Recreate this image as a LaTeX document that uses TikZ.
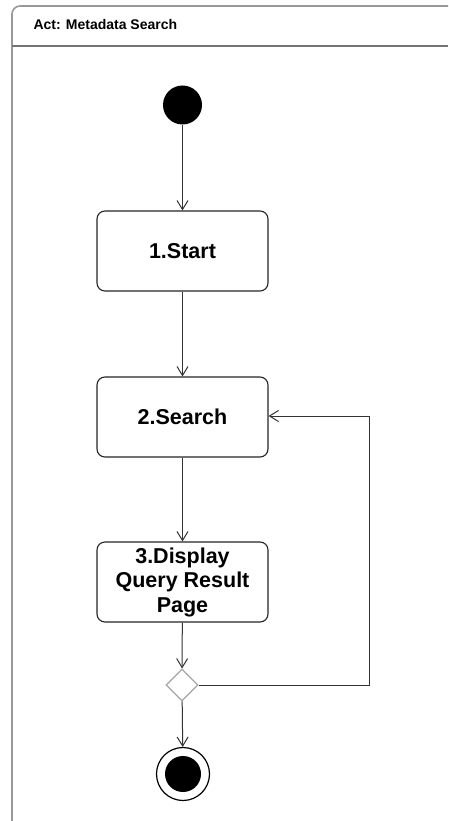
\documentclass[tikz,border=0pt]{standalone}
\usepackage{fontspec}
\setmainfont{Liberation Sans}
\usetikzlibrary{arrows.meta,shapes.geometric}
\begin{document}
\begin{tikzpicture}[x=1pt,y=-1pt,
  act/.style={draw=black!85,line width=1.1pt,rounded corners=8pt,minimum width=171pt,minimum height=80pt,align=center,font=\fontsize{21.5}{24.5}\selectfont\bfseries,inner sep=0pt},
  flow/.style={draw=black!80,line width=1pt,-{Straight Barb[length=9pt,width=11pt,line width=1pt]}},
  frameline/.style={draw=black!40,line width=1.6pt}]
\useasboundingbox (0,0) rectangle (448,821);
\fill[white] (0,0) rectangle (448,821);
\begin{scope}
\clip (0,0) rectangle (448,821);
\draw[frameline,rounded corners=8pt] (12,6) rectangle (470,850);
\draw[frameline,draw=black!55] (12,46) -- (448,46);
\end{scope}
\node[anchor=base west,font=\fontsize{14}{16}\selectfont\bfseries] (title) at (30,30) {Act: Metadata Search};
\node[circle,fill=black,minimum size=39pt,inner sep=0pt] (init) at (182.5,105) {};
\node[act] (s1) at (182.5,251) {1.Start};
\node[act] (s2) at (182.5,417) {2.Search};
\node[act] (s3) at (182.5,582) {3.Display\\Query Result\\Page};
\node[diamond,draw=black!35,line width=1.2pt,minimum width=32pt,minimum height=32pt,inner sep=0pt] (dec) at (182,685) {};
\node[circle,draw=black,line width=1.2pt,minimum size=53pt,inner sep=0pt] (fin) at (183,774) {};
\node[circle,fill=black,minimum size=36pt,inner sep=0pt] at (fin) {};
\draw[flow] (init) -- (s1);
\draw[flow] (s1) -- (s2);
\draw[flow] (s2) -- (s3);
\draw[flow] (s3) -- (dec);
\draw[flow] (dec) -- (fin);
\coordinate (c1) at (369,685);
\coordinate (c2) at (369,416);
\draw[flow] (dec.east) -- (c1) -- (c2) -- (s2.east |- c2);
\end{tikzpicture}
\end{document}
